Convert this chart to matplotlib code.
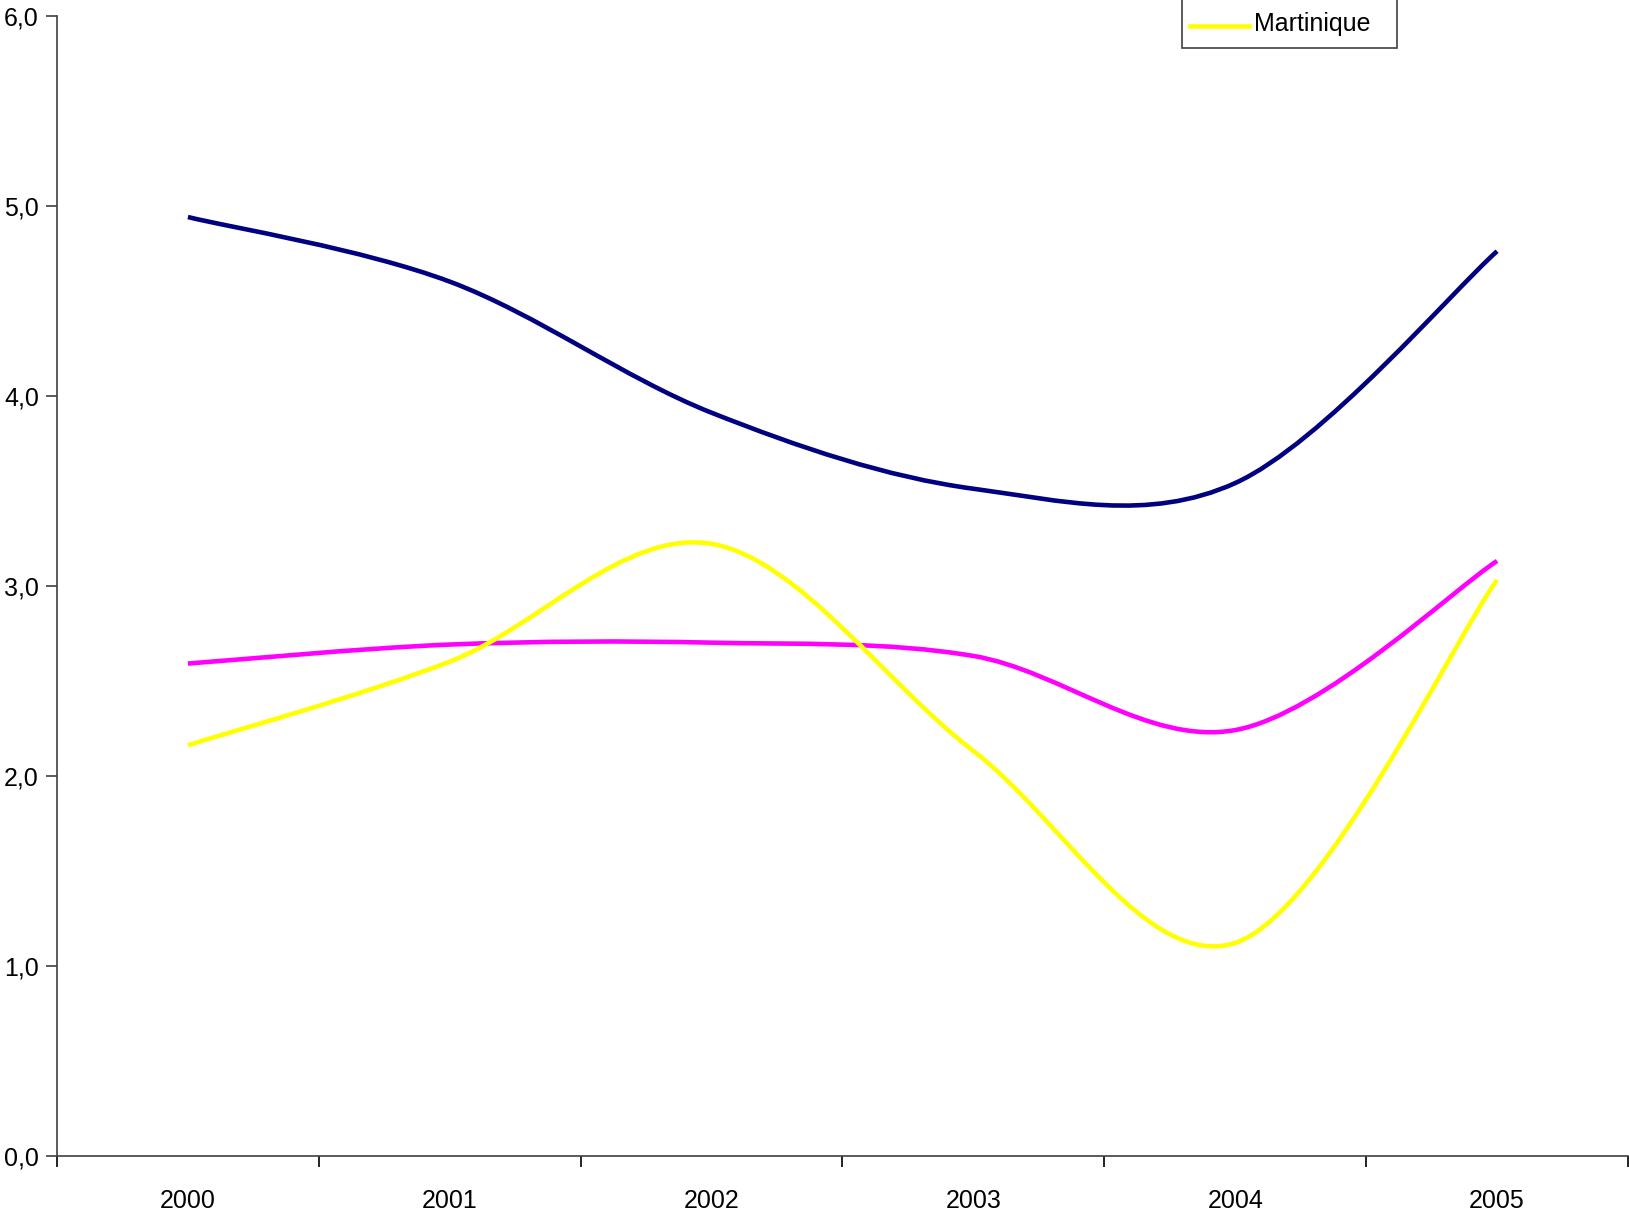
import numpy as np
import matplotlib
matplotlib.use("Agg")
import matplotlib.pyplot as plt
from matplotlib.path import Path
from matplotlib.patches import PathPatch, Rectangle
from matplotlib.lines import Line2D

plt.rcParams['font.family'] = ['Liberation Sans', 'DejaVu Sans']
FS = 18

years = ['2000', '2001', '2002', '2003', '2004', '2005']
serie_bleue = [4.94, 4.60, 3.91, 3.51, 3.54, 4.76]
serie_rose = [2.59, 2.69, 2.70, 2.63, 2.24, 3.13]
martinique = [2.16, 2.60, 3.22, 2.13, 1.12, 3.03]


def smooth_path(ys):
	# Excel-like smoothed line: cubic bezier through every point
	x = np.arange(len(ys), dtype=float)
	y = np.asarray(ys, dtype=float)
	pts = np.column_stack([x, y])
	n = len(pts)
	verts = [pts[0]]
	codes = [Path.MOVETO]
	for i in range(n - 1):
		p0 = pts[i - 1] if i > 0 else pts[i]
		p1 = pts[i]
		p2 = pts[i + 1]
		p3 = pts[i + 2] if i + 2 < n else pts[i + 1]
		c1 = p1 + (p2 - p0) / 6.0
		c2 = p2 - (p3 - p1) / 6.0
		verts += [c1, c2, p2]
		codes += [Path.CURVE4] * 3
	return Path(verts, codes)


fig = plt.figure(figsize=(16.29, 12.16), dpi=100)
ax = fig.add_axes([57 / 1629, 1 - 1155.7 / 1216, (1628 - 57) / 1629, (1155.7 - 15.6) / 1216])

for vals, col in [(serie_bleue, '#000080'), (serie_rose, '#FF00FF'), (martinique, '#FFFF00')]:
	ax.add_patch(PathPatch(smooth_path(vals), facecolor='none', edgecolor=col, lw=3.3,
		capstyle='butt', joinstyle='round'))

ax.set_xlim(-0.5, 5.5)
ax.set_ylim(0, 6)

for s in ['top', 'right']:
	ax.spines[s].set_visible(False)
for s in ['left', 'bottom']:
	ax.spines[s].set_color('#404040')
	ax.spines[s].set_linewidth(1.2)

ax.set_yticks(np.arange(0, 7, 1))
ax.set_yticklabels([f'{v:.1f}'.replace('.', ',') for v in np.arange(0, 7, 1)])
ax.set_xticks(np.arange(-0.5, 6.0, 1))
ax.set_xticklabels([])
ax.set_xticks(np.arange(len(years)), minor=True)
ax.set_xticklabels(years, minor=True)
ax.tick_params(axis='x', which='major', length=8, width=1.2, color='black')
ax.tick_params(axis='x', which='minor', length=0, pad=24, labelsize=FS)
ax.tick_params(axis='y', length=8, width=1.2, color='#404040', labelsize=FS, pad=5)

# legend (frame runs off the top of the picture)
fig.add_artist(Rectangle((1182 / 1629, 1 - 48 / 1216), (1397 - 1182) / 1629, 80 / 1216,
	transform=fig.transFigure, facecolor='white', edgecolor='#404040', lw=1.2, clip_on=False))
fig.add_artist(Line2D([1190 / 1629, 1249 / 1629], [1 - 26 / 1216, 1 - 26 / 1216],
	transform=fig.transFigure, color='#FFFF00', lw=3.3))
fig.text(1254 / 1629, 1 - 24 / 1216, 'Martinique', fontsize=FS, va='center', ha='left')

fig.savefig('out.png', dpi=100)
